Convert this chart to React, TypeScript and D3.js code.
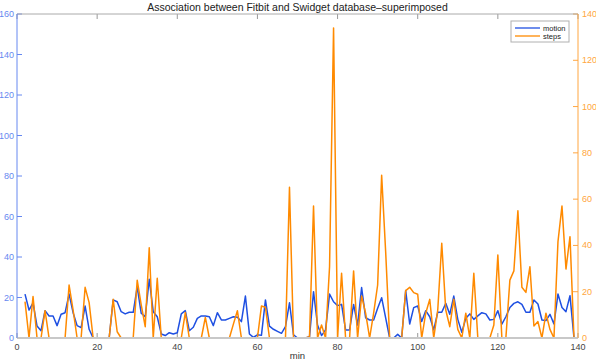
import React from 'react';
import * as d3 from 'd3';

// minutes 2..139, one reading per minute
const startMinute = 2;
const motion = [
  21.7, 13.8, 17.4, 5.9, 3.6, 13.5, 10.9, 10.9, 6.1, 11.7, 12.5, 21.7, 12.5, 6.1, 5.1, 15.8, 4.3, 0,
  0, 0, 0, 0, 18.8, 17.9, 13, 11.9, 12.7, 12.7, 25.3, 12.2, 10.5, 29, 13, 10.5, 2, 1.2, 2.6, 2, 2.6,
  11.9, 13.5, 3.6, 5.3, 9.7, 10.9, 10.9, 10.5, 6.1, 12.5, 8.9, 8.9, 9.7, 10.5, 10.2, 8.1, 20.7, 2,
  0.3, 1.6, 1.3, 18.8, 5.9, 4.3, 3.3, 2.3, 5.6, 17.4, 1.6, 0, 0, 0, 0.7, 22.9, 6.4, 1.2, 4, 21.7,
  17.9, 16, 16.6, 4, 4, 16.6, 6.4, 24.9, 10, 8.9, 8.9, 14.7, 19.9, 9.9, 0, 0, 1.8, 0, 23.4, 6.9, 15,
  15.8, 8.1, 13.5, 10.5, 4, 12.7, 12.7, 17.1, 11.7, 20.7, 9.2, 2.8, 9.7, 11.9, 9.2, 10.9, 12.5, 11.9,
  8.9, 9.2, 13.5, 6.9, 10.5, 15.1, 17.1, 17.9, 16.6, 12.7, 12.7, 18.8, 16.8, 8.9, 8.6, 11.7, 6.9,
  21.7, 15.1, 13, 20.9, 0,
];
const steps = [
  15.7, 0, 17.9, 0, 0, 11.8, 0, 0, 0, 0, 0, 22.9, 12.1, 0, 0, 21.9, 15.3, 0, 0, 0, 0, 0, 16.7, 2.7,
  0, 0, 0, 0, 25, 14.3, 4.9, 39, 0, 25.8, 0, 0, 0, 0, 0, 0, 11, 0, 0, 0, 0, 8.9, 0, 0, 0, 0, 0, 0,
  6, 11.8, 0, 0, 0, 0, 0, 13.8, 13.3, 0, 0, 0, 0, 0, 65.1, 0, 0, 0, 0, 0.6, 57, 0, 5.6, 0, 30.8, 134,
  0, 28, 0, 0, 29, 0, 18.2, 10.7, 0, 10.7, 22.9, 70.3, 37.3, 0, 0, 0, 0, 20.5, 21.9, 19.6, 18.9, 0,
  10.7, 16.7, 0, 12.1, 40.9, 12.1, 4.9, 16.7, 3.7, 0, 10.7, 0, 28, 0, 0, 0, 0, 5.6, 35.9, 0, 0, 25,
  29, 55, 21.9, 19.7, 30.8, 5.2, 7.1, 0, 10.7, 3.7, 0, 41.6, 57, 29.8, 43.8, 0,
];
const xTicks = [0, 20, 40, 60, 80, 100, 120, 140];
const leftTicks = [0, 20, 40, 60, 80, 100, 120, 140, 160];
const rightTicks = [0, 20, 40, 60, 80, 100, 120, 140];
const seriesNames = ['motion', 'steps'];

const W = 596;
const H = 362;
const m = { top: 14, right: 18, bottom: 24, left: 17 };
const blue = '#1f50e2';
const orange = '#ff8a00';
const blueAxis = '#6688f0';
const orangeAxis = '#ffa640';
const font = '"Liberation Sans", Arial, Helvetica, sans-serif';

export default function App() {
  const x = d3.scaleLinear().domain([0, 140]).range([m.left, W - m.right]);
  const yL = d3.scaleLinear().domain([0, 160]).range([H - m.bottom, m.top]);
  const yR = d3.scaleLinear().domain([0, 140]).range([H - m.bottom, m.top]);

  const motionLine = d3.line<number>()
    .x((_, i) => x(startMinute + i))
    .y(d => yL(d));
  const stepsLine = d3.line<number>()
    .x((_, i) => x(startMinute + i))
    .y(d => yR(d));

  const x0 = x(0), x1 = x(140), yb = yL(0), yt = yL(160);

  return (
    <svg width={W} height={H} style={{ position: 'absolute', left: 0, top: 0, background: '#fff' }} fontFamily={font}>
      <text x={(x0 + x1) / 2} y={11} textAnchor="middle" fontSize={10.5} fill="#222">
        Association between Fitbit and Swidget database–superimposed
      </text>

      {/* x ticks, bottom and top */}
      {xTicks.map(t => (
        <g key={'x' + t}>
          <line x1={x(t)} x2={x(t)} y1={yb} y2={yb - 5} stroke="#999" />
          <line x1={x(t)} x2={x(t)} y1={yt} y2={yt + 5} stroke="#999" />
          <text x={x(t)} y={yb + 12} textAnchor="middle" fontSize={9} fill="#444">{t}</text>
        </g>
      ))}
      <text x={(x0 + x1) / 2} y={H - 3} textAnchor="middle" fontSize={9.5} fill="#333">min</text>

      {/* left axis */}
      {leftTicks.map(t => (
        <g key={'l' + t}>
          <line x1={x0} x2={x0 + 5} y1={yL(t)} y2={yL(t)} stroke={blueAxis} />
          <text x={x0 - 3} y={yL(t) + 3} textAnchor="end" fontSize={9} fill={blueAxis}>{t}</text>
        </g>
      ))}
      {/* right axis */}
      {rightTicks.map(t => (
        <g key={'r' + t}>
          <line x1={x1} x2={x1 - 5} y1={yR(t)} y2={yR(t)} stroke={orangeAxis} />
          <text x={x1 + 4} y={yR(t) + 3} textAnchor="start" fontSize={9} fill={orangeAxis}>{t}</text>
        </g>
      ))}

      <path d={motionLine(motion) ?? ''} fill="none" stroke={blue} strokeWidth={1.5} strokeLinejoin="round" />
      <path d={stepsLine(steps) ?? ''} fill="none" stroke={orange} strokeWidth={1.5} strokeLinejoin="round" />

      {/* frame */}
      <line x1={x0} x2={x1} y1={yt} y2={yt} stroke="#aaa" />
      <line x1={x0} x2={x1} y1={yb} y2={yb} stroke="#c8c8c8" strokeWidth={2} />
      <line x1={x0} x2={x0} y1={yt} y2={yb} stroke={blueAxis} />
      <line x1={x1} x2={x1} y1={yt} y2={yb} stroke={orangeAxis} />

      {/* legend */}
      <g transform="translate(511,21)">
        <rect x={0} y={0} width={58} height={21} fill="#fff" stroke="#b0b0b0" />
        {seriesNames.map((n, i) => (
          <g key={n} transform={`translate(0,${7 + i * 8})`}>
            <line x1={4} x2={29} y1={0} y2={0} stroke={i === 0 ? blue : orange} strokeWidth={1.3} />
            <text x={32} y={2.8} fontSize={7.5} fill="#222">{n}</text>
          </g>
        ))}
      </g>
    </svg>
  );
}
